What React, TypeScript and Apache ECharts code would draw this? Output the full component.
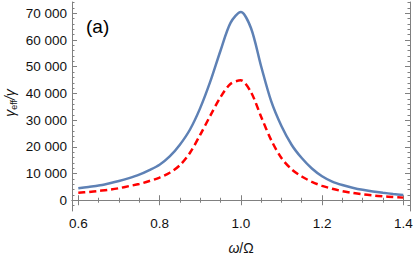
import React, { useEffect, useRef } from "react";
import * as echarts from "echarts";

const omega = [0.6, 0.625, 0.65, 0.675, 0.7, 0.725, 0.75, 0.775, 0.8, 0.825, 0.85, 0.875, 0.9, 0.925, 0.95, 0.975, 1.0, 1.025, 1.05, 1.075, 1.1, 1.125, 1.15, 1.175, 1.2, 1.225, 1.25, 1.275, 1.3, 1.325, 1.35, 1.375, 1.4];
const blueVals = [4500, 5000, 5500, 6300, 7200, 8300, 9600, 11300, 13300, 16400, 20800, 26500, 34500, 44500, 56000, 66500, 70500, 64500, 50200, 37000, 27800, 20800, 15800, 11900, 9000, 7000, 5700, 4700, 3900, 3300, 2800, 2350, 1950];
const redVals = [2800, 3100, 3500, 3900, 4500, 5300, 6100, 7200, 8500, 10300, 13100, 17800, 24500, 31700, 38600, 43600, 44900, 40500, 31300, 22500, 15800, 11600, 8900, 6900, 5400, 4300, 3400, 2750, 2200, 1800, 1450, 1200, 980];

const xMajorTicks = [0.6, 0.8, 1.0, 1.2, 1.4];
const xMinorTicks = [0.65, 0.7, 0.75, 0.85, 0.9, 0.95, 1.05, 1.1, 1.15, 1.25, 1.3, 1.35];
const yMajorTicks = [0, 10000, 20000, 30000, 40000, 50000, 60000, 70000];
const yMinorTicks = [-2000, 2000, 4000, 6000, 8000, 12000, 14000, 16000, 18000, 22000, 24000, 26000, 28000, 32000, 34000, 36000, 38000, 42000, 44000, 46000, 48000, 52000, 54000, 56000, 58000, 62000, 64000, 66000, 68000, 72000, 74000];

const X_MIN = 0.5845;
const X_MAX = 1.4165;
const Y_MIN = -4030;
const Y_MAX = 74250;

const FRAME = "#808080";
const FONT = "Liberation Sans, Arial, sans-serif";

function fmtY(v: number): string {
  const s = String(Math.round(v));
  if (s.length > 3) return s.slice(0, s.length - 3) + " " + s.slice(s.length - 3);
  return s;
}

function xAxisDef(position: "top" | "bottom", major: boolean, withLabels: boolean): any {
  return {
    type: "value",
    position,
    min: X_MIN,
    max: X_MAX,
    axisLine: { show: major, lineStyle: { color: FRAME, width: 1 } },
    axisTick: {
      show: true,
      inside: true,
      length: major ? 5 : 2.5,
      customValues: major ? xMajorTicks : xMinorTicks,
      lineStyle: { color: FRAME, width: 1 },
    },
    axisLabel: withLabels
      ? {
          show: true,
          customValues: xMajorTicks,
          formatter: (v: number) => v.toFixed(1),
          color: "#111",
          fontFamily: FONT,
          fontSize: 13.5,
          margin: 5,
        }
      : { show: false },
    splitLine: { show: false },
    name: withLabels ? "{w|ω}{s|/Ω}" : "",
    nameLocation: "middle",
    nameGap: 30,
    nameTextStyle: {
      rich: {
        w: { fontFamily: FONT, fontSize: 14, fontStyle: "italic", color: "#111" },
        s: { fontFamily: FONT, fontSize: 14, color: "#111" },
      },
    },
  };
}

function yAxisDef(position: "left" | "right", major: boolean, withLabels: boolean): any {
  return {
    type: "value",
    position,
    min: Y_MIN,
    max: Y_MAX,
    axisLine: { show: major, lineStyle: { color: FRAME, width: 1 } },
    axisTick: {
      show: true,
      inside: true,
      length: major ? 5 : 2.5,
      customValues: major ? yMajorTicks : yMinorTicks,
      lineStyle: { color: FRAME, width: 1 },
    },
    axisLabel: withLabels
      ? {
          show: true,
          customValues: yMajorTicks,
          formatter: (v: number) => fmtY(v),
          color: "#111",
          fontFamily: FONT,
          fontSize: 13.5,
          margin: 5,
        }
      : { show: false },
    splitLine: { show: false },
  };
}

export default function App() {
  const ref = useRef<HTMLDivElement>(null);
  useEffect(() => {
    if (!ref.current) return;
    const chart = echarts.init(ref.current, null, { renderer: "svg" });
    chart.setOption({
      animation: false,
      backgroundColor: "#ffffff",
      title: {
        text: "(a)",
        left: 81,
        top: 12,
        textStyle: { fontFamily: FONT, fontSize: 19, fontWeight: "normal", color: "#000" },
      },
      graphic: [
        {
          type: "text",
          x: 10,
          y: 103,
          rotation: Math.PI / 2,
          style: {
            text: "{g|γ}{e|eff}{g|/γ}",
            align: "center",
            verticalAlign: "middle",
            rich: {
              g: { fontFamily: FONT, fontSize: 14, fontStyle: "italic", fill: "#111", lineHeight: 16 },
              e: { fontFamily: FONT, fontSize: 9, fill: "#111", lineHeight: 16, verticalAlign: "bottom", padding: [5, 0, 0, 0] },
            },
          },
        },
      ],
      grid: { left: 72, right: 5, top: 2, bottom: 45, containLabel: false, outerBoundsMode: "none" },
      xAxis: [
        xAxisDef("bottom", true, true),
        xAxisDef("bottom", false, false),
        xAxisDef("top", true, false),
        xAxisDef("top", false, false),
      ],
      yAxis: [
        yAxisDef("left", true, true),
        yAxisDef("left", false, false),
        yAxisDef("right", true, false),
        yAxisDef("right", false, false),
      ],
      series: [
        {
          type: "line",
          xAxisIndex: 0,
          yAxisIndex: 0,
          data: omega.map((x, i) => [x, blueVals[i]]),
          smooth: 0.3,
          showSymbol: false,
          lineStyle: { color: "#5E81B5", width: 2.5 },
        },
        {
          type: "line",
          xAxisIndex: 0,
          yAxisIndex: 0,
          data: omega.map((x, i) => [x, redVals[i]]),
          smooth: 0.3,
          showSymbol: false,
          lineStyle: { color: "#FF0000", width: 2.5, type: [7, 4] },
        },
      ],
    });
    return () => chart.dispose();
  }, []);
  return <div ref={ref} style={{ position: "fixed", left: 0, top: 0, width: 415, height: 256 }} />;
}
